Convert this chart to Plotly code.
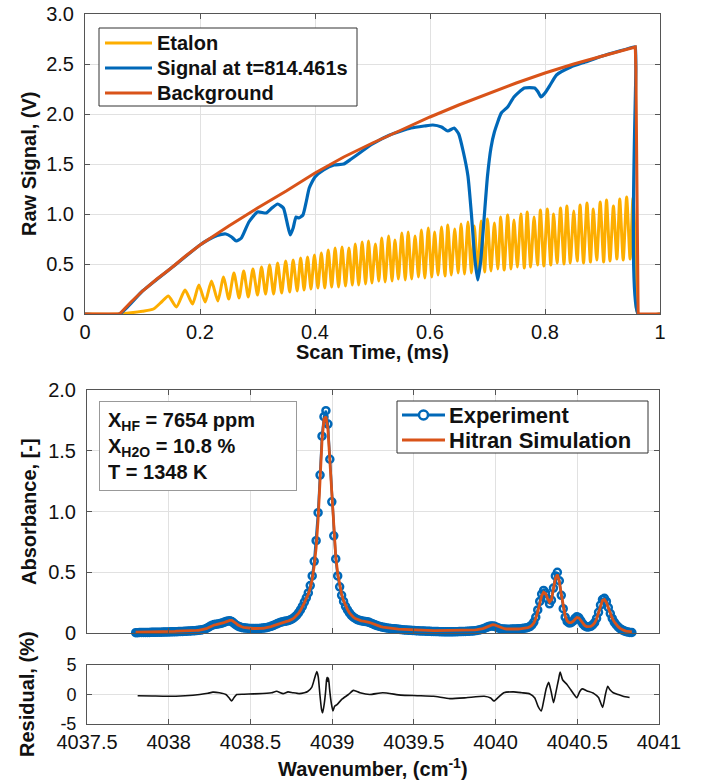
import plotly.graph_objects as go

# ---------------- data: top panel (raw signals) ----------------
bg_t = [0, 0.06, 0.08, 0.10, 0.125, 0.15, 0.175, 0.20, 0.25, 0.30, 0.35, 0.40, 0.45, 0.50,
        0.55, 0.60, 0.65, 0.70, 0.75, 0.80, 0.85, 0.90, 0.955, 0.957, 0.958, 0.962, 1.0]
bg_v = [0, 0, 0.12, 0.23, 0.35, 0.46, 0.58, 0.69, 0.88, 1.06, 1.23, 1.41, 1.57, 1.71,
        1.84, 1.97, 2.09, 2.20, 2.31, 2.41, 2.50, 2.58, 2.67, 2.67, 2.47, 0, 0]

sig_t = [0, 0.06, 0.10, 0.15, 0.20, 0.215, 0.23, 0.245, 0.255, 0.263, 0.272, 0.285, 0.30,
         0.315, 0.325, 0.335, 0.345, 0.352, 0.357, 0.362, 0.367, 0.372, 0.379, 0.385, 0.39,
         0.40, 0.415, 0.433, 0.45, 0.463, 0.48, 0.50, 0.53, 0.567, 0.59, 0.605, 0.62, 0.631,
         0.642, 0.65, 0.658, 0.666, 0.672, 0.678, 0.683, 0.688, 0.694, 0.70, 0.706, 0.712,
         0.724, 0.735, 0.746, 0.764, 0.782, 0.788, 0.793, 0.80, 0.81, 0.82, 0.845, 0.87,
         0.90, 0.955, 0.957, 0.958, 0.962, 1.0]
sig_v = [0, 0, 0.23, 0.46, 0.69, 0.745, 0.785, 0.80, 0.77, 0.73, 0.76, 0.92, 1.02,
         1.01, 1.06, 1.10, 1.06, 0.90, 0.79, 0.86, 0.97, 0.96, 0.99, 1.13, 1.26,
         1.37, 1.44, 1.49, 1.50, 1.55, 1.62, 1.70, 1.79, 1.86, 1.88, 1.89, 1.87, 1.83,
         1.86, 1.80, 1.62, 1.38, 1.00, 0.55, 0.34, 0.52, 0.95, 1.38, 1.66, 1.82,
         2.01, 2.07, 2.17, 2.26, 2.26, 2.22, 2.17, 2.21, 2.30, 2.39, 2.47, 2.52,
         2.58, 2.67, 2.67, 2.47, 0, 0]

et_t = [0, 0.06, 0.08, 0.10, 0.119, 0.133,
        0.145, 0.159, 0.174, 0.187, 0.198, 0.209, 0.220, 0.231, 0.241, 0.250, 0.259, 0.268,
        0.276, 0.284, 0.292, 0.300, 0.307, 0.314, 0.321, 0.328, 0.335, 0.342, 0.349, 0.356,
        0.362, 0.369, 0.375, 0.381, 0.387, 0.393, 0.399, 0.405, 0.411, 0.417, 0.423, 0.429,
        0.435, 0.441, 0.447, 0.453, 0.459, 0.465, 0.470, 0.476, 0.482, 0.488, 0.493, 0.499,
        0.505, 0.511, 0.516, 0.522, 0.528, 0.534, 0.539, 0.545, 0.551, 0.557, 0.562, 0.568,
        0.574, 0.580, 0.585, 0.591, 0.597, 0.603, 0.608, 0.614, 0.620, 0.626, 0.631, 0.637,
        0.643, 0.649, 0.654, 0.660, 0.666, 0.672, 0.677, 0.683, 0.689, 0.695, 0.700, 0.706,
        0.712, 0.718, 0.723, 0.729, 0.735, 0.741, 0.746, 0.752, 0.758, 0.764, 0.769, 0.775,
        0.781, 0.787, 0.792, 0.798, 0.804, 0.810, 0.815, 0.821, 0.827, 0.833, 0.838, 0.844,
        0.850, 0.856, 0.861, 0.867, 0.873, 0.879, 0.884, 0.890, 0.896, 0.902, 0.907, 0.913,
        0.919, 0.925, 0.930, 0.936, 0.942, 0.948, 0.953, 0.958, 0.962, 1.0]
et_v = [0, 0, 0.012, 0.028, 0.05, 0.12,
        0.18, 0.07, 0.24, 0.10, 0.29, 0.12, 0.33, 0.13, 0.37, 0.15, 0.41, 0.16,
        0.43, 0.17, 0.45, 0.19, 0.47, 0.20, 0.49, 0.20, 0.51, 0.21, 0.53, 0.22,
        0.54, 0.23, 0.56, 0.24, 0.57, 0.25, 0.59, 0.26, 0.61, 0.26, 0.64, 0.27,
        0.66, 0.27, 0.67, 0.28, 0.66, 0.29, 0.70, 0.29, 0.72, 0.30, 0.73, 0.31,
        0.70, 0.33, 0.76, 0.32, 0.78, 0.33, 0.74, 0.35, 0.81, 0.34, 0.82, 0.35,
        0.78, 0.37, 0.84, 0.36, 0.86, 0.37, 0.82, 0.39, 0.87, 0.38, 0.89, 0.39,
        0.85, 0.41, 0.90, 0.40, 0.92, 0.41, 0.88, 0.43, 0.93, 0.42, 0.95, 0.43,
        0.91, 0.45, 0.97, 0.44, 0.99, 0.45, 0.94, 0.47, 1.00, 0.46, 1.02, 0.47,
        0.97, 0.49, 1.04, 0.48, 1.05, 0.49, 1.00, 0.51, 1.06, 0.50, 1.08, 0.51,
        1.03, 0.53, 1.09, 0.51, 1.11, 0.52, 1.05, 0.54, 1.12, 0.52, 1.14, 0.53,
        1.08, 0.55, 1.15, 0.54, 1.17, 0.55, 1.16, 0.60, 0, 0]

top_names = ["Etalon", "Signal at t=814.461s", "Background"]
top_xticks = [0, 0.2, 0.4, 0.6, 0.8, 1]
top_xlabels = ["0", "0.2", "0.4", "0.6", "0.8", "1"]
top_yticks = [0, 0.5, 1.0, 1.5, 2.0, 2.5, 3.0]
top_ylabels = ["0", "0.5", "1.0", "1.5", "2.0", "2.5", "3.0"]

# ---------------- data: absorbance panel ----------------
wn = [4037.798, 4037.810, 4037.822, 4037.834, 4037.846, 4037.858, 4037.870, 4037.882, 4037.894, 4037.906,
      4037.918, 4037.930, 4037.942, 4037.954, 4037.966, 4037.978, 4037.990, 4038.002, 4038.014, 4038.026,
      4038.038, 4038.050, 4038.062, 4038.074, 4038.086, 4038.098, 4038.110, 4038.122, 4038.134, 4038.146,
      4038.158, 4038.170, 4038.182, 4038.194, 4038.206, 4038.218, 4038.230, 4038.242, 4038.254, 4038.266,
      4038.278, 4038.290, 4038.302, 4038.314, 4038.326, 4038.338, 4038.350, 4038.362, 4038.374, 4038.386,
      4038.398, 4038.410, 4038.422, 4038.434, 4038.446, 4038.458, 4038.470, 4038.482, 4038.494, 4038.506,
      4038.518, 4038.530, 4038.542, 4038.554, 4038.566, 4038.578, 4038.590, 4038.602, 4038.614, 4038.626,
      4038.638, 4038.650, 4038.662, 4038.674, 4038.686, 4038.698, 4038.710, 4038.722, 4038.734, 4038.746,
      4038.758, 4038.770, 4038.782, 4038.794, 4038.806, 4038.818, 4038.830, 4038.842, 4038.854, 4038.866,
      4038.878, 4038.890, 4038.902, 4038.914, 4038.926, 4038.938, 4038.950, 4038.962, 4038.974, 4038.986,
      4038.998, 4039.010, 4039.022, 4039.034, 4039.046, 4039.058, 4039.070, 4039.082, 4039.094, 4039.106,
      4039.118, 4039.130, 4039.142, 4039.154, 4039.166, 4039.178, 4039.190, 4039.202, 4039.214, 4039.226,
      4039.238, 4039.250, 4039.262, 4039.274, 4039.286, 4039.298, 4039.310, 4039.322, 4039.334, 4039.346,
      4039.358, 4039.370, 4039.382, 4039.394, 4039.406, 4039.418, 4039.430, 4039.442, 4039.454, 4039.466,
      4039.478, 4039.490, 4039.502, 4039.514, 4039.526, 4039.538, 4039.550, 4039.562, 4039.574, 4039.586,
      4039.598, 4039.610, 4039.622, 4039.634, 4039.646, 4039.658, 4039.670, 4039.682, 4039.694, 4039.706,
      4039.718, 4039.730, 4039.742, 4039.754, 4039.766, 4039.778, 4039.790, 4039.802, 4039.814, 4039.826,
      4039.838, 4039.850, 4039.862, 4039.874, 4039.886, 4039.898, 4039.910, 4039.922, 4039.934, 4039.946,
      4039.958, 4039.970, 4039.982, 4039.994, 4040.006, 4040.018, 4040.030, 4040.042, 4040.054, 4040.066,
      4040.078, 4040.090, 4040.102, 4040.114, 4040.126, 4040.138, 4040.150, 4040.162, 4040.174, 4040.186,
      4040.198, 4040.210, 4040.222, 4040.234, 4040.246, 4040.258, 4040.270, 4040.282, 4040.294, 4040.306,
      4040.318, 4040.330, 4040.342, 4040.354, 4040.366, 4040.378, 4040.390, 4040.402, 4040.414, 4040.426,
      4040.438, 4040.450, 4040.462, 4040.474, 4040.486, 4040.498, 4040.510, 4040.522, 4040.534, 4040.546,
      4040.558, 4040.570, 4040.582, 4040.594, 4040.606, 4040.618, 4040.630, 4040.642, 4040.654, 4040.666,
      4040.678, 4040.690, 4040.702, 4040.714, 4040.726, 4040.738, 4040.750, 4040.762, 4040.774, 4040.786,
      4040.798, 4040.810, 4040.822, 4040.834]

experiment = [0.003, 0.003, 0.004, 0.004, 0.004, 0.005, 0.005, 0.005, 0.006, 0.006,
              0.006, 0.007, 0.007, 0.007, 0.008, 0.008, 0.009, 0.009, 0.010, 0.010,
              0.011, 0.011, 0.012, 0.013, 0.013, 0.014, 0.015, 0.016, 0.017, 0.018,
              0.019, 0.020, 0.022, 0.024, 0.027, 0.031, 0.037, 0.046, 0.056, 0.064,
              0.069, 0.072, 0.075, 0.078, 0.082, 0.088, 0.094, 0.099, 0.100, 0.094,
              0.082, 0.068, 0.058, 0.051, 0.046, 0.043, 0.041, 0.039, 0.038, 0.037,
              0.037, 0.037, 0.037, 0.038, 0.039, 0.041, 0.043, 0.046, 0.050, 0.055,
              0.061, 0.068, 0.076, 0.083, 0.089, 0.093, 0.096, 0.099, 0.103, 0.109,
              0.118, 0.130, 0.145, 0.165, 0.190, 0.220, 0.255, 0.290, 0.330, 0.390,
              0.470, 0.590, 0.760, 0.990, 1.300, 1.620, 1.780, 1.830, 1.720, 1.430,
              1.080, 0.800, 0.610, 0.470, 0.380, 0.310, 0.260, 0.220, 0.190, 0.165,
              0.145, 0.130, 0.120, 0.110, 0.105, 0.100, 0.097, 0.095, 0.093, 0.088,
              0.081, 0.074, 0.067, 0.061, 0.056, 0.052, 0.048, 0.045, 0.042, 0.040,
              0.038, 0.036, 0.034, 0.032, 0.030, 0.028, 0.027, 0.025, 0.024, 0.023,
              0.022, 0.021, 0.020, 0.019, 0.018, 0.017, 0.017, 0.016, 0.015, 0.015,
              0.014, 0.013, 0.013, 0.012, 0.012, 0.011, 0.011, 0.010, 0.010, 0.010,
              0.010, 0.010, 0.010, 0.011, 0.011, 0.012, 0.012, 0.013, 0.013, 0.014,
              0.015, 0.016, 0.017, 0.019, 0.021, 0.024, 0.028, 0.033, 0.040, 0.047,
              0.053, 0.057, 0.058, 0.055, 0.048, 0.041, 0.036, 0.033, 0.032, 0.031,
              0.031, 0.031, 0.032, 0.032, 0.033, 0.034, 0.035, 0.037, 0.039, 0.042,
              0.046, 0.053, 0.066, 0.090, 0.130, 0.190, 0.260, 0.320, 0.350, 0.330,
              0.280, 0.240, 0.270, 0.370, 0.470, 0.500, 0.430, 0.310, 0.200, 0.130,
              0.095, 0.083, 0.085, 0.097, 0.120, 0.134, 0.125, 0.100, 0.075, 0.058,
              0.050, 0.050, 0.055, 0.066, 0.085, 0.120, 0.170, 0.230, 0.275, 0.285,
              0.260, 0.210, 0.160, 0.120, 0.090, 0.068, 0.050, 0.036, 0.026, 0.018,
              0.012, 0.008, 0.005, 0.004]

hitran = [0.008, 0.008, 0.008, 0.008, 0.009, 0.009, 0.009, 0.009, 0.010, 0.010,
          0.010, 0.011, 0.011, 0.011, 0.012, 0.012, 0.012, 0.013, 0.013, 0.014,
          0.014, 0.015, 0.015, 0.016, 0.016, 0.017, 0.017, 0.018, 0.019, 0.020,
          0.020, 0.021, 0.022, 0.024, 0.026, 0.030, 0.036, 0.044, 0.053, 0.061,
          0.066, 0.069, 0.072, 0.075, 0.079, 0.085, 0.092, 0.099, 0.104, 0.104,
          0.096, 0.082, 0.068, 0.058, 0.051, 0.046, 0.043, 0.041, 0.039, 0.038,
          0.037, 0.037, 0.036, 0.037, 0.038, 0.039, 0.041, 0.044, 0.048, 0.053,
          0.058, 0.064, 0.071, 0.078, 0.084, 0.089, 0.093, 0.096, 0.100, 0.106,
          0.115, 0.127, 0.142, 0.161, 0.185, 0.214, 0.248, 0.285, 0.320, 0.370,
          0.440, 0.550, 0.700, 0.930, 1.250, 1.580, 1.760, 1.780, 1.680, 1.420,
          1.090, 0.820, 0.630, 0.490, 0.390, 0.320, 0.265, 0.225, 0.192, 0.166,
          0.146, 0.130, 0.119, 0.111, 0.105, 0.100, 0.097, 0.095, 0.092, 0.088,
          0.082, 0.075, 0.068, 0.062, 0.057, 0.053, 0.049, 0.046, 0.043, 0.041,
          0.039, 0.037, 0.035, 0.034, 0.032, 0.031, 0.030, 0.029, 0.028, 0.027,
          0.026, 0.025, 0.025, 0.024, 0.023, 0.023, 0.022, 0.022, 0.021, 0.021,
          0.021, 0.020, 0.020, 0.020, 0.020, 0.020, 0.020, 0.020, 0.020, 0.020,
          0.020, 0.020, 0.020, 0.020, 0.021, 0.021, 0.021, 0.022, 0.022, 0.023,
          0.023, 0.024, 0.025, 0.026, 0.027, 0.029, 0.032, 0.036, 0.042, 0.050,
          0.058, 0.065, 0.068, 0.066, 0.059, 0.050, 0.043, 0.038, 0.035, 0.033,
          0.032, 0.031, 0.031, 0.031, 0.032, 0.033, 0.034, 0.036, 0.038, 0.041,
          0.045, 0.051, 0.062, 0.082, 0.118, 0.175, 0.245, 0.305, 0.335, 0.325,
          0.285, 0.255, 0.275, 0.360, 0.450, 0.480, 0.425, 0.320, 0.210, 0.140,
          0.100, 0.085, 0.085, 0.095, 0.113, 0.128, 0.124, 0.103, 0.079, 0.061,
          0.052, 0.050, 0.054, 0.064, 0.082, 0.115, 0.165, 0.225, 0.268, 0.275,
          0.252, 0.208, 0.161, 0.122, 0.092, 0.070, 0.052, 0.038, 0.028, 0.021,
          0.016, 0.013, 0.011, 0.010]

res_wn = [4037.81, 4037.90, 4037.99, 4038.10, 4038.19, 4038.24, 4038.27, 4038.31, 4038.35, 4038.37,
          4038.385, 4038.40, 4038.416, 4038.46, 4038.52, 4038.60, 4038.63, 4038.66, 4038.70, 4038.73,
          4038.76, 4038.80, 4038.83, 4038.85, 4038.875, 4038.89, 4038.906, 4038.915, 4038.925, 4038.935,
          4038.942, 4038.952, 4038.960, 4038.966, 4038.970, 4038.974, 4038.978, 4038.984, 4038.995, 4039.005,
          4039.015, 4039.030, 4039.060, 4039.100, 4039.130, 4039.170, 4039.230, 4039.310, 4039.420, 4039.520,
          4039.620, 4039.720, 4039.820, 4039.930, 4039.970, 4039.990, 4040.020, 4040.050, 4040.110, 4040.160,
          4040.210, 4040.240, 4040.260, 4040.280, 4040.295, 4040.310, 4040.325, 4040.340, 4040.355, 4040.370,
          4040.385, 4040.395, 4040.410, 4040.437, 4040.460, 4040.497, 4040.515, 4040.530, 4040.560, 4040.600,
          4040.630, 4040.655, 4040.672, 4040.686, 4040.700, 4040.720, 4040.750, 4040.780, 4040.820]
residual = [-0.2, -0.25, -0.3, -0.2, 0.0, 0.2, 0.4, 0.3, 0.0, -0.6,
            -1.1, -0.5, 0.0, 0.05, 0.1, 0.2, 0.3, 0.55, 0.15, 0.45,
            0.3, 0.15, 0.3, 0.5, 1.2, 2.5, 3.9, 3.0, 0.0, -2.5,
            -3.1, -1.5, 0.5, 2.5, 2.9, 2.2, 2.8, 1.0, -1.5, -2.8,
            -2.0, -1.7, -0.8, 0.0, 0.7, 0.3, 0.0, 0.3, -0.1, -0.2,
            -0.3, -0.7, -0.55, -0.3, -0.6, -1.1, -0.4, 0.3, 0.45, 0.3,
            0.1, -0.6, -2.0, -2.8, -1.0, 1.0, 2.05, 0.5, -1.4, 0.5,
            2.5, 3.8, 2.5, 1.7, 0.8, -0.55, 0.5, 0.95, 0.6, 0.2,
            -0.5, -2.2, 0.0, 1.4, 0.8, 0.3, 0.0, -0.3, -0.5]

bottom_names = ["Experiment", "Hitran Simulation"]
wn_ticks = [4037.5, 4038, 4038.5, 4039, 4039.5, 4040, 4040.5, 4041]
wn_labels = ["4037.5", "4038", "4038.5", "4039", "4039.5", "4040", "4040.5", "4041"]
abs_ticks = [0, 0.5, 1.0, 1.5, 2.0]
abs_labels = ["0", "0.5", "1.0", "1.5", "2.0"]
res_ticks = [-5, 0, 5]
res_labels = ["-5", "0", "5"]

# ---------------- styling ----------------
W, H = 702, 782
FONT = "Liberation Sans, Arial, Helvetica, sans-serif"
C_ETALON = "#FDAE00"
C_BLUE = "#0068B8"
C_ORANGE = "#D95319"
AX = "#555555"
GRID = "#e1e1e1"
TXT = "#111111"


def fx(p):
    return p / W


def fy(p):
    return 1 - p / H


fig = go.Figure()

fig.add_trace(go.Scatter(x=et_t, y=et_v, name=top_names[0], mode="lines",
                         line=dict(color=C_ETALON, width=3, shape="spline", smoothing=0.6),
                         xaxis="x", yaxis="y", showlegend=False, cliponaxis=False))
fig.add_trace(go.Scatter(x=sig_t, y=sig_v, name=top_names[1], mode="lines",
                         line=dict(color=C_BLUE, width=3.2, shape="spline", smoothing=0.5),
                         xaxis="x", yaxis="y", showlegend=False, cliponaxis=False))
fig.add_trace(go.Scatter(x=bg_t, y=bg_v, name=top_names[2], mode="lines",
                         line=dict(color=C_ORANGE, width=3),
                         xaxis="x", yaxis="y", showlegend=False, cliponaxis=False))

fig.add_trace(go.Scatter(x=wn, y=experiment, name=bottom_names[0], mode="lines+markers",
                         line=dict(color=C_BLUE, width=2.5),
                         marker=dict(symbol="circle-open", size=7, color=C_BLUE,
                                     line=dict(width=2.5, color=C_BLUE)),
                         xaxis="x2", yaxis="y2", showlegend=False, cliponaxis=False))
fig.add_trace(go.Scatter(x=wn, y=hitran, name=bottom_names[1], mode="lines",
                         line=dict(color=C_ORANGE, width=2.8),
                         xaxis="x2", yaxis="y2", showlegend=False, cliponaxis=False))

fig.add_trace(go.Scatter(x=res_wn, y=residual, mode="lines", showlegend=False,
                         line=dict(color=TXT, width=1.6, shape="spline", smoothing=0.5),
                         xaxis="x3", yaxis="y3"))

common = dict(showline=True, linecolor=AX, linewidth=1, mirror="ticks", ticks="inside",
              ticklen=5, tickcolor=AX, showgrid=True, gridcolor=GRID, gridwidth=1,
              zeroline=False, tickfont=dict(family=FONT, size=20, color=TXT),
              automargin=False)

xd_top = [fx(85), fx(660)]
xd_bot = [fx(87), fx(659)]

fig.update_layout(
    width=W, height=H, margin=dict(l=0, r=0, t=0, b=0, autoexpand=False),
    paper_bgcolor="white", plot_bgcolor="white",
    font=dict(family=FONT, color=TXT),
    showlegend=False,
    xaxis=dict(common, domain=xd_top, anchor="y", range=[0, 1],
               tickvals=top_xticks, ticktext=top_xlabels, ticklabelstandoff=0),
    yaxis=dict(common, domain=[fy(314), fy(14)], anchor="x", range=[0, 3],
               tickvals=top_yticks, ticktext=top_ylabels, ticklabelstandoff=6),
    xaxis2=dict(common, domain=xd_bot, anchor="y2", range=[4037.5, 4041],
                tickvals=wn_ticks, showticklabels=False),
    yaxis2=dict(common, domain=[fy(633), fy(390)], anchor="x2", range=[0, 2],
                tickvals=abs_ticks, ticktext=abs_labels, ticklabelstandoff=6),
    xaxis3=dict(common, domain=xd_bot, anchor="y3", range=[4037.5, 4041],
                tickvals=wn_ticks, ticktext=wn_labels, ticklabelstandoff=0),
    yaxis3=dict(common, domain=[fy(724), fy(665)], anchor="x3", range=[-5, 5],
                tickvals=res_ticks, ticktext=res_labels, ticklabelstandoff=6,
                tickfont=dict(family=FONT, size=18, color=TXT)),
)

fig.add_shape(type="line", xref="x3 domain", yref="y3", x0=0, x1=1, y0=0, y1=0,
              line=dict(color="#777777", width=1, dash="dash"), layer="below")


# ---------------- legends (boxed, MATLAB style) ----------------
def legend_box(x0, y0, x1, y1):
    fig.add_shape(type="rect", xref="paper", yref="paper",
                  x0=fx(x0), x1=fx(x1), y0=fy(y1), y1=fy(y0),
                  line=dict(color="#333333", width=1), fillcolor="white", layer="above")


def legend_entry(name, color, lx0, lx1, ly, tx, size, marker=False):
    fig.add_shape(type="line", xref="paper", yref="paper", x0=fx(lx0), x1=fx(lx1),
                  y0=fy(ly), y1=fy(ly), line=dict(color=color, width=3), layer="above")
    if marker:
        cx = (lx0 + lx1) / 2
        fig.add_shape(type="circle", xref="paper", yref="paper",
                      x0=fx(cx - 4.5), x1=fx(cx + 4.5), y0=fy(ly + 4.5), y1=fy(ly - 4.5),
                      line=dict(color=color, width=2.5), fillcolor="white", layer="above")
    fig.add_annotation(xref="paper", yref="paper", x=fx(tx), y=fy(ly), xanchor="left",
                       yanchor="middle", showarrow=False, text="<b>%s</b>" % name,
                       font=dict(family=FONT, size=size, color=TXT))


legend_box(99, 28, 357, 106)
for nm, col, yy in zip(top_names, [C_ETALON, C_BLUE, C_ORANGE], [43, 68, 93]):
    legend_entry(nm, col, 105, 152, yy, 155, 20)

legend_box(397, 401, 648, 453)
legend_entry(bottom_names[0], C_BLUE, 402, 445, 415, 447, 22, marker=True)
legend_entry(bottom_names[1], C_ORANGE, 402, 445, 440, 447, 22)

# ---------------- axis titles ----------------
title_font = dict(family=FONT, size=20, color=TXT)
annos = [
    dict(text="<b>Raw Signal, (V)</b>", x=fx(29), y=fy(164), textangle=-90),
    dict(text="<b>Absorbance, [-]</b>", x=fx(29), y=fy(512), textangle=-90),
    dict(text="<b>Residual, (%)</b>", x=fx(27), y=fy(694), textangle=-90),
    dict(text="<b>Scan Time, (ms)</b>", x=fx(372), y=fy(352), textangle=0),
    dict(text="<b>Wavenumber, (cm<sup>-1</sup>)</b>", x=fx(373), y=fy(767), textangle=0),
]
for a in annos:
    fig.add_annotation(xref="paper", yref="paper", showarrow=False, xanchor="center",
                       yanchor="middle", font=title_font, **a)

fig.add_annotation(xref="paper", yref="paper", x=fx(99), y=fy(401), xanchor="left",
                   yanchor="top", showarrow=False, align="left",
                   text="<b>X<sub>HF</sub> = 7654 ppm<br>X<sub>H2O</sub> = 10.8 %<br>T = 1348 K</b>",
                   font=dict(family=FONT, size=20, color=TXT),
                   bordercolor="#999999", borderwidth=1, borderpad=8, bgcolor="white",
                   width=180, height=72)

fig.write_html("out.html")
